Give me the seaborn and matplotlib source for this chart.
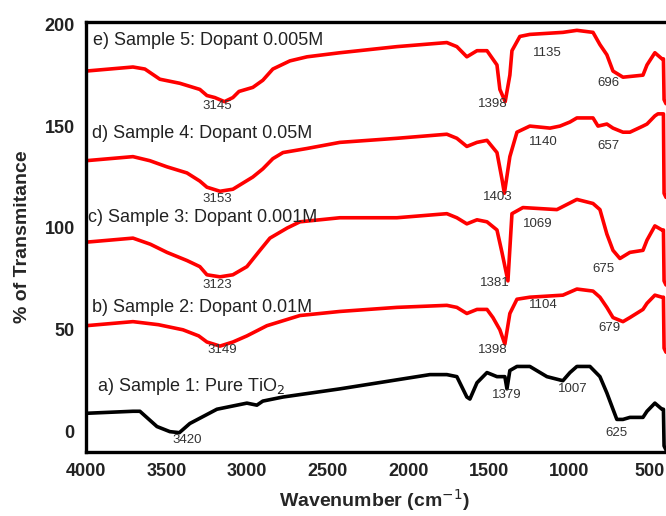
import numpy as np
import pandas as pd
import seaborn as sns
import matplotlib.pyplot as plt

# spectra (wavenumber, % transmittance incl. offset)
wn_a = [4000, 3708, 3665, 3559, 3479, 3420, 3355, 3187, 3001, 2939, 2902, 2777, 2424, 1865, 1760,
        1698, 1636, 1617, 1573, 1511, 1449, 1400, 1387, 1369, 1325, 1245, 1139, 1040, 996, 953,
        872, 810, 767, 729, 705, 667, 624, 543, 518, 469, 425, 416, 412, 400]
t_a = [9, 10, 10, 2.5, 0, -0.5, 4, 11, 14, 13, 15, 17, 21, 28, 28,
       27, 17, 16, 24, 29, 27, 27, 21, 30, 32, 32, 27, 25, 29, 32,
       32, 27, 19, 11, 6, 6, 7, 7, 10, 14, 11, 11, -7, -9]

wn_b = [4000, 3708, 3550, 3398, 3300, 3249, 3168, 3088, 3001, 2877, 2672, 2424, 2070, 1760, 1698,
        1636, 1573, 1511, 1474, 1431, 1400, 1369, 1325, 1245, 1040, 953, 853, 810, 767, 729,
        667, 624, 543, 518, 469, 425, 416, 412, 400]
t_b = [52, 54, 52.5, 50, 47, 44, 42, 44, 47, 52, 57, 59, 61, 62, 61,
       58, 60, 60, 56, 50, 43, 58, 65, 66, 67, 70, 69, 66, 61, 56,
       54, 56, 60, 63, 67, 66, 66, 41, 39]

wn_c = [4000, 3708, 3600, 3497, 3373, 3293, 3249, 3168, 3088, 3001, 2920, 2858, 2750, 2672, 2424,
        2070, 1760, 1698, 1636, 1573, 1511, 1449, 1418, 1381, 1356, 1288, 1077, 953, 853, 810,
        767, 729, 686, 624, 543, 518, 469, 425, 416, 412, 400]
t_c = [93, 95, 92, 88, 84, 81, 77, 76, 77, 81, 89, 95, 100, 103, 105,
       105, 107, 105, 102, 104, 103, 99, 88, 74, 107, 110, 109, 114, 112, 109,
       97, 89, 85, 88, 89, 94, 101, 99, 99, 74, 72]

wn_d = [4000, 3708, 3603, 3497, 3373, 3293, 3249, 3168, 3088, 3026, 2964, 2902, 2840, 2777, 2628,
        2424, 2070, 1760, 1698, 1636, 1573, 1511, 1449, 1418, 1403, 1369, 1325, 1245, 1120, 1058,
        996, 953, 853, 822, 767, 729, 667, 624, 543, 518, 469, 450, 416, 412, 400]
t_d = [133, 135, 133, 130, 127, 123, 120, 118, 119, 122, 125, 129, 134, 137, 139,
       142, 144, 146, 144, 140, 142, 143, 137, 124, 117, 135, 147, 150, 149, 150,
       152, 154, 154, 150, 151, 149, 147, 147, 150, 151, 155, 156, 156, 117, 115]

wn_e = [4000, 3708, 3634, 3541, 3417, 3293, 3249, 3200, 3140, 3088, 3050, 2964, 2902, 2840, 2734,
        2628, 2424, 2070, 1760, 1698, 1636, 1573, 1511, 1449, 1431, 1398, 1369, 1356, 1307, 1245,
        1040, 953, 853, 810, 767, 729, 667, 543, 518, 469, 425, 416, 412, 400]
t_e = [177, 179, 178, 173, 171, 168, 165, 164, 162, 164, 167, 169, 172.5, 178, 182,
       184, 186, 189, 191, 189, 184, 187, 187, 180, 168, 162, 175, 187, 194, 195,
       196, 197, 196, 190, 185, 177, 174, 175, 180, 186, 183, 183, 163, 161]

samples = ["a) Sample 1: Pure TiO$_2$", "b) Sample 2: Dopant 0.01M", "c) Sample 3: Dopant 0.001M",
           "d) Sample 4: Dopant 0.05M", "e) Sample 5: Dopant 0.005M"]
sample_pos = [(3932, 22), (3963, 61), (3988, 105), (3963, 146.5), (3957, 192)]

# peak labels: (text, x, y)
peaks = [("3420", 3373, -4), ("1379", 1387, 18), ("1007", 977, 21), ("625", 705, -0.5),
         ("3149", 3156, 40), ("1398", 1474, 40), ("1104", 1164, 62), ("679", 748, 51),
         ("3123", 3187, 72), ("1381", 1462, 73), ("1069", 1195, 102), ("675", 791, 80),
         ("3153", 3187, 114), ("1403", 1443, 115), ("1140", 1164, 142), ("657", 760, 140),
         ("3145", 3187, 160), ("1398", 1474, 161), ("1135", 1139, 186), ("696", 760, 171)]

sns.set_style("white")
plt.rcParams['font.family'] = ['Liberation Sans', 'DejaVu Sans']

fig = plt.figure(figsize=(6.66, 5.16), dpi=100)
ax = fig.add_axes([0.129, 0.124, 0.871, 0.833])

curves = [(wn_a, t_a, "black"), (wn_b, t_b, "red"), (wn_c, t_c, "red"),
          (wn_d, t_d, "red"), (wn_e, t_e, "red")]
for wn, t, col in curves:
    df = pd.DataFrame({"wn": wn, "T": t})
    sns.lineplot(data=df, x="wn", y="T", color=col, lw=2.6, sort=False, ax=ax)

for name, (x, y) in zip(samples, sample_pos):
    ax.text(x, y, name, fontsize=13, color="#222222", ha="left", va="center")
for txt, x, y in peaks:
    ax.text(x, y, txt, fontsize=9.5, color="#333333", ha="center", va="center")

ax.set_xlim(4000, 400)
ax.set_ylim(-10, 201)
ax.set_xticks([4000, 3500, 3000, 2500, 2000, 1500, 1000, 500])
ax.set_yticks([0, 50, 100, 150, 200])
ax.tick_params(length=0, labelsize=13, pad=8)
for lab in ax.get_xticklabels() + ax.get_yticklabels():
    lab.set_fontweight("bold")
    lab.set_color("#222222")

for s in ["left", "bottom", "top"]:
    ax.spines[s].set_linewidth(2.4)
    ax.spines[s].set_color("black")
ax.spines["right"].set_visible(False)

ax.set_xlabel("Wavenumber (cm$^{-1}$)", fontsize=14, fontweight="bold", va="center")
ax.set_ylabel("% of Transmitance", fontsize=14, fontweight="bold", va="center")
ax.xaxis.set_label_coords(0.498, -0.112)
ax.yaxis.set_label_coords(-0.11, 0.502)

plt.savefig("out.png", dpi=100)
